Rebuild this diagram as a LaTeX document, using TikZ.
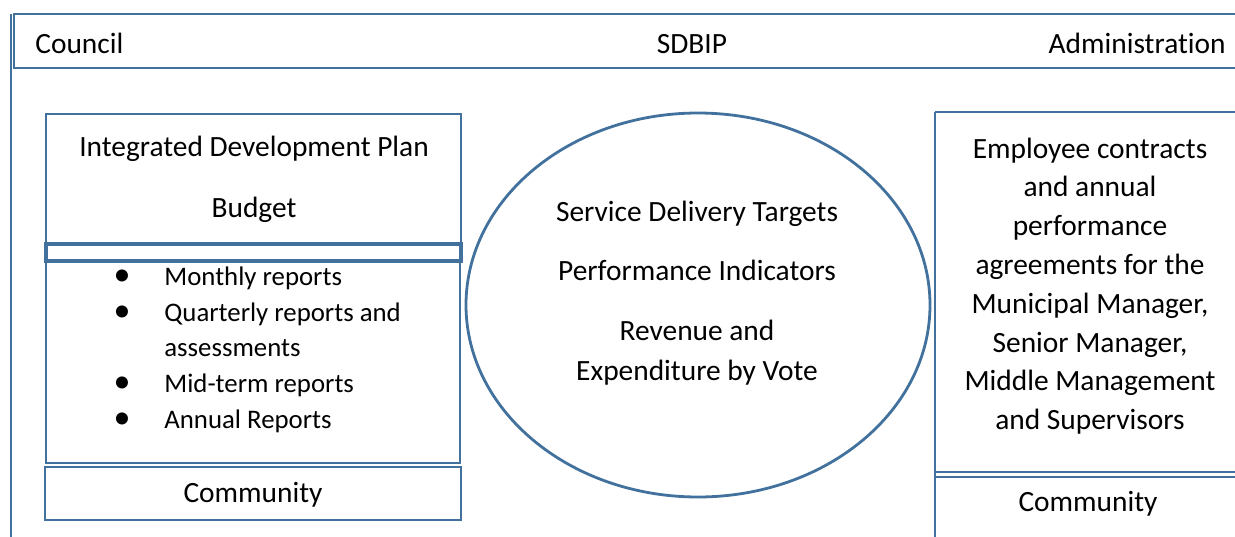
\documentclass[tikz,border=0pt]{standalone}
\usepackage{fontspec}
\setmainfont[Ligatures=NoCommon]{Carlito}
\definecolor{frameblue}{RGB}{65, 113, 156}
\usetikzlibrary{positioning}
\tikzset{
  frame/.style={draw=frameblue, line width=1.4pt},
  lbl/.style={font=\fontsize{14.7}{19.4}\selectfont, inner sep=0pt, anchor=base},
  item/.style={font=\fontsize{13.4}{19.4}\selectfont, inner sep=0pt, anchor=base west},
  blt/.style={font=\fontsize{17}{19.4}\selectfont, inner sep=0pt, anchor=base},
}

\begin{document}
\begin{tikzpicture}[x=0.5pt, y=-0.5pt]
  \useasboundingbox (0,0) rectangle (1235,536);
  \clip (0,0) rectangle (1235,536);

  % Header band
  \draw[frame] (11,14) -- (11,540);
  \draw[frame] (14,14) rectangle (1245,68);
  \node[lbl, anchor=base west] (council) at (35,53) {Council};
  \node[lbl] (sdbip) at (692,53) {SDBIP};
  \node[lbl, anchor=base east] (admin) at (1226,53) {Administration};

  % Left column
  \draw[frame] (46,114) rectangle (461,244);
  \draw[frame, line width=1.7pt] (46,244) rectangle (461,261);
  \draw[frame] (46,261) rectangle (460,463);
  \draw[frame] (45,467) rectangle (461,520);
  \node[lbl] (idp) at (254,156) {Integrated Development Plan};
  \node[lbl] (budget) at (254,217) {Budget};

  \node[blt] (b1) at (122,285) {\textbullet};
  \node[item] (monthly) at (164,285) {Monthly reports};
  \node[blt] (b2) at (122,321) {\textbullet};
  \node[item] (quarterly) at (164,321) {Quarterly reports and};
  \node[item] (assess) at (164,356) {assessments};
  \node[blt] (b3) at (122,392) {\textbullet};
  \node[item] (midterm) at (164,392) {Mid-term reports};
  \node[blt] (b4) at (122,428) {\textbullet};
  \node[item] (annual) at (164,428) {Annual Reports};

  \node[lbl] (commleft) at (253,502) {Community};

  % SDBIP ellipse
  \draw[frame] (698,305) ellipse [x radius=232, y radius=192];
  \node[lbl] (sdt) at (697,221) {Service Delivery Targets};
  \node[lbl] (pi) at (697,280) {Performance Indicators};
  \node[lbl] (rev) at (697,340) {Revenue and};
  \node[lbl] (exp) at (697,380) {Expenditure by Vote};

  % Right column
  \draw[frame] (935,112) -- (935,540);
  \draw[frame] (935,112) -- (1245,112);
  \draw[frame] (935,472) -- (1245,472);
  \draw[frame] (935,477) -- (1245,477);
  \node[lbl, anchor=center, align=center] (contracts) at (1090,286) {Employee contracts\\and annual\\performance\\agreements for the\\Municipal Manager,\\Senior Manager,\\Middle Management\\and Supervisors};
  \node[lbl] (commright) at (1088,511) {Community};
\end{tikzpicture}
\end{document}
